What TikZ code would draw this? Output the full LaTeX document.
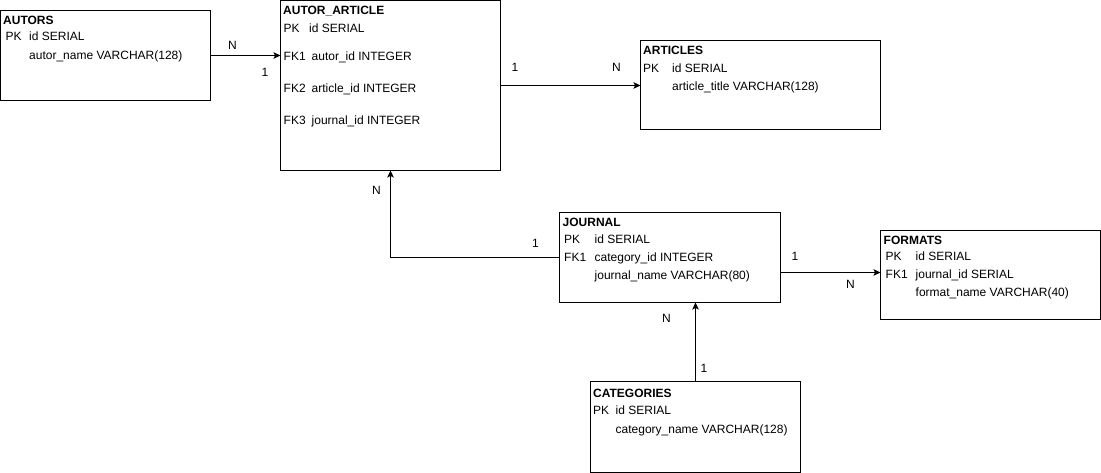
\documentclass[tikz,border=0pt]{standalone}
\usepackage{fontspec}
\setmainfont{Liberation Sans}
\usetikzlibrary{arrows.meta}

\begin{document}
\begin{tikzpicture}[x=1pt, y=-1pt,
        entity/.style={draw, line width=1pt, inner sep=0pt, outer sep=0pt, anchor=north west},
        fieldtext/.style={anchor=base west, inner sep=0pt, yshift=-0.8pt, font=\fontsize{12}{14}\selectfont},
        tabletitle/.style={fieldtext, font=\fontsize{12}{14}\selectfont\bfseries},
        cardlabel/.style={fieldtext},
        rel/.style={line width=1pt, -{Stealth[length=7pt, width=6.5pt, inset=1.5pt]}}]
            \useasboundingbox (0,0) rectangle (1101,473);
            \node[entity, minimum width=210pt, minimum height=90pt] (autors) at (0.5,10.5) {};
            \node[entity, minimum width=220pt, minimum height=170pt] (autorarticle) at (280.5,0.5) {};
            \node[entity, minimum width=240pt, minimum height=89pt] (articles) at (640.5,40.5) {};
            \node[entity, minimum width=221pt, minimum height=90pt] (journal) at (559.5,212.5) {};
            \node[entity, minimum width=220pt, minimum height=89pt] (formats) at (880.5,230.5) {};
            \node[entity, minimum width=210pt, minimum height=91pt] (categories) at (590.5,381.5) {};
            \node[tabletitle] (autorsT) at (3,24) {AUTORS};
            \node[fieldtext] (autorsPK) at (5.5,40) {PK};
            \node[fieldtext] (autorsId) at (29,40) {id SERIAL};
            \node[fieldtext] (autorsName) at (29,59) {autor\_name VARCHAR(128)};
            \node[tabletitle] (autorarticleT) at (283,14) {AUTOR\_ARTICLE};
            \node[fieldtext] (autorarticlePK) at (283.5,32) {PK};
            \node[fieldtext] (autorarticleId) at (309,32) {id SERIAL};
            \node[fieldtext] (autorarticleFKa) at (283.5,60) {FK1};
            \node[fieldtext] (autorarticleAutor) at (311.5,60) {autor\_id INTEGER};
            \node[fieldtext] (autorarticleFKb) at (283.5,92) {FK2};
            \node[fieldtext] (autorarticleArticle) at (311.5,92) {article\_id INTEGER};
            \node[fieldtext] (autorarticleFKc) at (283.5,124) {FK3};
            \node[fieldtext] (autorarticleJournal) at (311.5,124) {journal\_id INTEGER};
            \node[tabletitle] (articlesT) at (643,54) {ARTICLES};
            \node[fieldtext] (articlesPK) at (643,72) {PK};
            \node[fieldtext] (articlesId) at (672,72) {id SERIAL};
            \node[fieldtext] (articlesTitle) at (672,90) {article\_title VARCHAR(128)};
            \node[tabletitle] (journalT) at (562.5,226) {JOURNAL};
            \node[fieldtext] (journalPK) at (564,242.5) {PK};
            \node[fieldtext] (journalId) at (594.5,242.5) {id SERIAL};
            \node[fieldtext] (journalFK) at (564,260.5) {FK1};
            \node[fieldtext] (journalCategory) at (594.5,260.5) {category\_id INTEGER};
            \node[fieldtext] (journalName) at (594.5,278.5) {journal\_name VARCHAR(80)};
            \node[tabletitle] (formatsT) at (883.5,244) {FORMATS};
            \node[fieldtext] (formatsPK) at (885.5,260) {PK};
            \node[fieldtext] (formatsId) at (915.5,260) {id SERIAL};
            \node[fieldtext] (formatsFK) at (885.5,278) {FK1};
            \node[fieldtext] (formatsJournal) at (915.5,278) {journal\_id SERIAL};
            \node[fieldtext] (formatsName) at (915.5,296) {format\_name VARCHAR(40)};
            \node[tabletitle] (categoriesT) at (593,396.5) {CATEGORIES};
            \node[fieldtext] (categoriesPK) at (593,414) {PK};
            \node[fieldtext] (categoriesId) at (615.5,414) {id SERIAL};
            \node[fieldtext] (categoriesName) at (615.5,432.5) {category\_name VARCHAR(128)};
            \node[cardlabel] (nAutors) at (228,48.5) {N};
            \node[cardlabel] (oneAutors) at (261.5,76) {1};
            \node[cardlabel] (oneArticles) at (511.5,70.5) {1};
            \node[cardlabel] (nArticles) at (612,70.5) {N};
            \node[cardlabel] (nJournalUp) at (372,193.5) {N};
            \node[cardlabel] (oneJournalUp) at (532,246.5) {1};
            \node[cardlabel] (oneFormats) at (791.5,260) {1};
            \node[cardlabel] (nFormats) at (846,288) {N};
            \node[cardlabel] (nCategories) at (662,321.5) {N};
            \node[cardlabel] (oneCategories) at (700.5,371.5) {1};
            \draw[rel] (autors.east) -- (autors.east -| autorarticle.west);
            \draw[rel] (autorarticle.east) -- (autorarticle.east -| articles.west);
            \draw[rel] (journal.west) -| (autorarticle.south);
            \draw[rel] ([yshift=-15pt]journal.east) -- ([yshift=-15pt]journal.east -| formats.west);
            \draw[rel] (categories.north) -- (categories.north |- journal.south);
        \end{tikzpicture}
\end{document}
